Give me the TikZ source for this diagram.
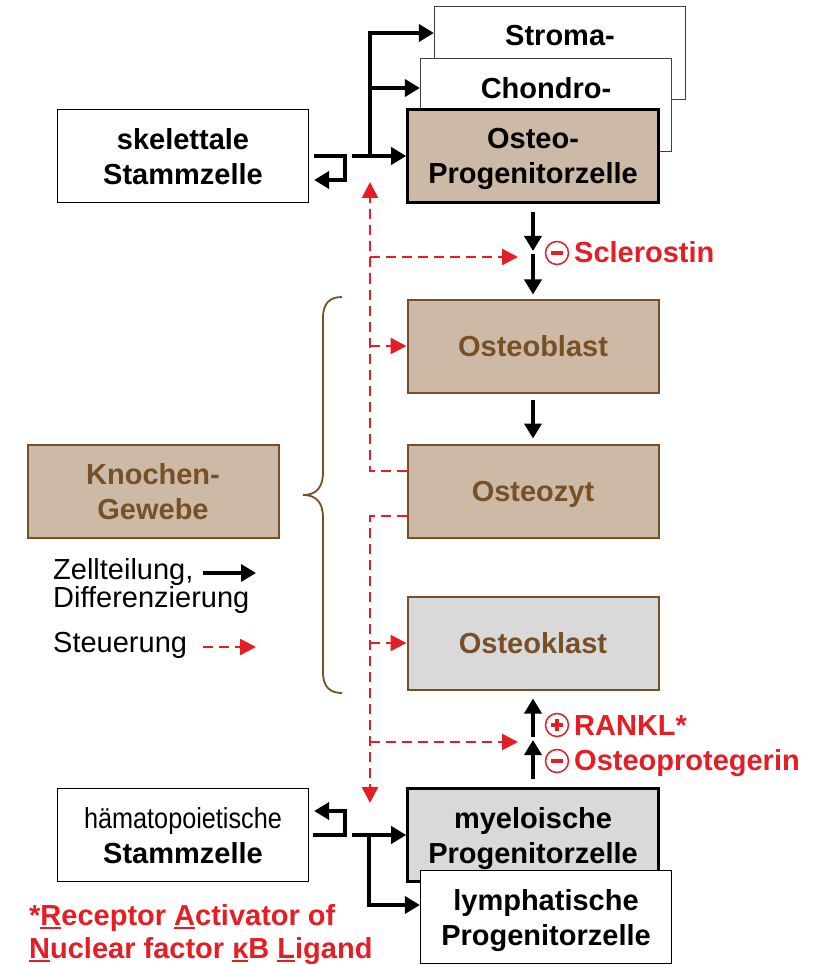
\documentclass[tikz,border=0pt]{standalone}
\usepackage{fontspec}
\setmainfont{Liberation Sans}
\usetikzlibrary{arrows.meta}
\definecolor{bonetan}{RGB}{205,186,166}
\definecolor{bonebrown}{RGB}{120,80,40}
\definecolor{ctrlred}{RGB}{228,30,36}
\definecolor{clastgrey}{RGB}{217,217,217}
\newcommand{\ulchar}[1]{\setbox0\hbox{#1}\rlap{\rule[-4pt]{\wd0}{2pt}}\box0}

\begin{document}
\begin{tikzpicture}[x=1pt, y=-1pt,
    every node/.style={font=\fontsize{29}{35}\selectfont\bfseries},
    cell/.style={draw, minimum width=251pt, minimum height=93pt, align=center, inner sep=0pt, text depth=0pt},
    whitecell/.style={cell, fill=white, line width=1.2pt},
    keycell/.style={cell, line width=2.6pt},
    bone/.style={cell, fill=bonetan, draw=bonebrown, text=bonebrown, line width=2pt},
    flow/.style={line width=3.6pt, -{Triangle[length=15pt,width=17pt]}},
    ctrl/.style={ctrlred, line width=2.6pt, dash pattern=on 10pt off 6pt, -{Triangle[length=16pt,width=16pt]}},
    redtext/.style={text=ctrlred, inner sep=0pt},
    legend/.style={font=\fontsize{29}{28}\selectfont, align=left, inner sep=0pt},
    sign/.style={circle, draw=ctrlred, line width=1.5pt, minimum size=23pt, inner sep=0pt},
    negsign/.style={sign, path picture={
      \fill[ctrlred] ([shift={(-6pt,-1.9pt)}]path picture bounding box.center) rectangle ([shift={(6pt,1.9pt)}]path picture bounding box.center);}},
    possign/.style={sign, path picture={
      \fill[ctrlred] ([shift={(-6pt,-1.9pt)}]path picture bounding box.center) rectangle ([shift={(6pt,1.9pt)}]path picture bounding box.center);
      \fill[ctrlred] ([shift={(-1.9pt,-6pt)}]path picture bounding box.center) rectangle ([shift={(1.9pt,6pt)}]path picture bounding box.center);}}]
  \useasboundingbox (0,0) rectangle (825,965);

  % skeletal line
  \node[whitecell, draw=black!75] (stroma) at (560,53) {Stroma-\\\mbox{}};
  \node[whitecell, draw=black!75] (chondro) at (546,105) {Chondro-\\\mbox{}};
  \node[keycell, fill=bonetan] (oprog) at (533,156) {Osteo-\\Progenitorzelle};
  \node[whitecell] (skel) at (183,156) {skelettale\\Stammzelle};

  \draw[flow] ([xshift=5pt]skel.east) -- ++(31,0) -- ++(0,24) -- ++(-31,0);
  \coordinate (skbr) at (370,156);
  \draw[flow] ([xshift=43pt]skel.east) -- (oprog.west);
  \draw[flow] (skbr) |- ([yshift=20pt]stroma.west);
  \draw[flow] (skbr) |- ([yshift=17pt]chondro.west);

  % bone cells
  \node[bone] (oblast) at (533,346) {Osteoblast};
  \node[bone] (ozyt) at (533,491) {Osteozyt};
  \node[bone, fill=clastgrey] (oklast) at (533,643) {Osteoklast};
  \node[bone] (tissue) at (153,491) {Knochen-\\Gewebe};

  \coordinate (sclj) at (533,251);
  \draw[flow] ([yshift=-8pt]oprog.south) -- (sclj);
  \draw[flow] ([yshift=-3pt]sclj) -- ([yshift=4pt]oblast.north);
  \draw[flow] ([yshift=-6pt]oblast.south) -- ([yshift=5pt]ozyt.north);

  \node[negsign] (sclsign) at (557,253) {};
  \node[redtext, anchor=base west] (scltext) at (574,262) {Sclerostin};

  % blood line
  \node[keycell, fill=clastgrey] (myelo) at (533,835) {myeloische\\Progenitorzelle};
  \node[whitecell] (lymph) at (546,917) {lymphatische\\Progenitorzelle};
  \node[whitecell] (hema) at (183,835) {{\mdseries\scalebox{0.87}[1]{hämatopoietische}}\\Stammzelle};

  \draw[flow] ([xshift=4pt]hema.east) -- ++(32,0) -- ++(0,-24) -- ++(-31,0);
  \coordinate (hbr) at (369,835);
  \draw[flow] ([xshift=43pt]hema.east) -- (myelo.west);
  \draw[flow] (hbr) |- ([yshift=12pt]lymph.west);

  \coordinate (rankj) at (533,740);
  \draw[flow] ([yshift=8pt]myelo.north) -- (rankj);
  \draw[flow] ([yshift=3pt]rankj) -- ([yshift=-8pt]oklast.south);

  \node[possign] (ranksign) at (557,725) {};
  \node[redtext, anchor=base west] (ranktext) at (574,735) {RANKL*};
  \node[negsign] (opgsign) at (557,761) {};
  \node[redtext, anchor=base west] (opgtext) at (574,770) {Osteoprotegerin};

  % control paths
  \coordinate (ctrlup) at (370,182);
  \coordinate (ctrldown) at (370,803);
  \coordinate (sclin) at (518,257);
  \coordinate (rankin) at (518,742);
  \draw[ctrl] ([yshift=20pt]ozyt.west) -| (ctrlup);
  \draw[ctrl] ([yshift=-25pt]ozyt.west) -| (ctrldown);
  \draw[ctrl] (sclin -| ctrlup) -- (sclin);
  \draw[ctrl] (oblast.west -| ctrlup) -- (oblast.west);
  \draw[ctrl] (oklast.west -| ctrldown) -- (oklast.west);
  \draw[ctrl] (rankin -| ctrldown) -- (rankin);

  % brace
  \draw[bonebrown, line width=1.8pt] (342,297) .. controls (330,297) and (323,303) .. (323,318)
    -- (323,472) .. controls (323,488) and (316,495) .. (303,495)
    .. controls (316,495) and (323,502) .. (323,518)
    -- (323,672) .. controls (323,687) and (330,693) .. (342,693);

  % legend
  \node[legend, anchor=base west] (legflow) at (53,607) {Zellteilung,\\Differenzierung};
  \node[legend, anchor=base west] (legctrl) at (53,652) {Steuerung};
  \coordinate (legA) at (203,573);
  \coordinate (legB) at (203,647);
  \draw[flow] (legA) -- ++(53,0);
  \draw[ctrl] (legB) -- ++(53,0);

  % footnote
  \node[redtext, font=\fontsize{29}{33}\selectfont\bfseries, align=left, anchor=base west] (fnote) at (29,958)
    {*\ulchar{R}eceptor \ulchar{A}ctivator of\\\ulchar{N}uclear factor \ulchar{κ}B \ulchar{L}igand};
\end{tikzpicture}
\end{document}
